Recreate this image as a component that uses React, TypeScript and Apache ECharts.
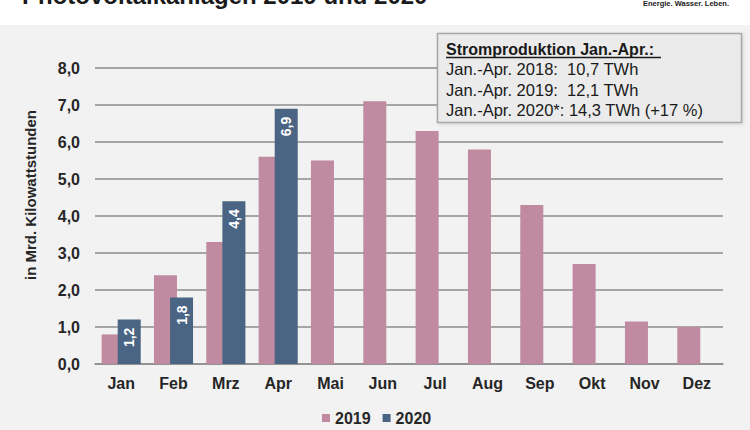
import React, { useEffect, useRef } from "react";
import * as echarts from "echarts";

const months = ["Jan", "Feb", "Mrz", "Apr", "Mai", "Jun", "Jul", "Aug", "Sep", "Okt", "Nov", "Dez"];
const values2019 = [0.8, 2.4, 3.3, 5.6, 5.5, 7.1, 6.3, 5.8, 4.3, 2.7, 1.15, 1.0];
const values2020: (number | null)[] = [1.2, 1.8, 4.4, 6.9, null, null, null, null, null, null, null, null];
const seriesNames = ["2019", "2020"];
const boxLines = [
  "Jan.-Apr. 2018:  10,7 TWh",
  "Jan.-Apr. 2019:  12,1 TWh",
  "Jan.-Apr. 2020*: 14,3 TWh (+17 %)",
];
const boxTitle = "Stromproduktion Jan.-Apr.:";
const chartTitle = "Photovoltaikanlagen 2019 und 2020";
const logoText = "Energie. Wasser. Leben.";
const yName = "in Mrd. Kilowattstunden";

const PINK = "#c08aa0";
const BLUE = "#4a6483";
const FONT = "'Liberation Sans', Arial, sans-serif";
const fmt = (v: number) => v.toFixed(1).replace(".", ",");

export default function App() {
  const ref = useRef<HTMLDivElement>(null);
  useEffect(() => {
    if (!ref.current) return;
    const chart = echarts.init(ref.current, null, { renderer: "svg" });
    chart.setOption({
      animation: false,
      backgroundColor: "transparent",
      textStyle: { fontFamily: FONT },
      grid: { left: 95, right: 27, top: 68, bottom: 66 },
      legend: {
        data: seriesNames,
        left: 322,
        top: 410,
        padding: 0,
        itemWidth: 8,
        itemHeight: 8,
        itemGap: 12,
        icon: "rect",
        textStyle: { fontSize: 16, fontWeight: "bold", color: "#262626", fontFamily: FONT },
      },
      xAxis: {
        type: "category",
        data: months,
        axisLine: { show: true, lineStyle: { color: "#8c8c8c", width: 1.5 } },
        axisTick: { show: false },
        axisLabel: { color: "#262626", fontSize: 16, fontWeight: "bold", margin: 11, fontFamily: FONT },
      },
      yAxis: {
        type: "value",
        min: 0,
        max: 8,
        interval: 1,
        axisLine: { show: false },
        axisTick: { show: false },
        axisLabel: {
          color: "#262626",
          fontSize: 16,
          fontWeight: "bold",
          margin: 15,
          fontFamily: FONT,
          formatter: (v: number) => fmt(v),
        },
        splitLine: { lineStyle: { color: "#8c8c8c", width: 1.5 } },
      },
      series: [
        {
          name: seriesNames[0],
          type: "bar",
          data: values2019,
          barWidth: 23,
          barGap: "-30%",
          itemStyle: { color: PINK },
          z: 2,
        },
        {
          name: seriesNames[1],
          type: "bar",
          data: values2020,
          barWidth: 23,
          itemStyle: { color: BLUE },
          z: 3,
          label: {
            show: true,
            position: "insideTop",
            rotate: 90,
            align: "right",
            verticalAlign: "middle",
            distance: 8,
            color: "#ffffff",
            fontSize: 14,
            fontWeight: "bold",
            fontFamily: FONT,
            formatter: (p: any) => fmt(p.value),
          },
        },
      ],
      graphic: [
        {
          type: "text",
          x: 22,
          y: -5,
          style: {
            text: chartTitle,
            font: `bold 24px ${FONT}`,
            fill: "#1a1a1a",
            verticalAlign: "middle",
          },
        },
        {
          type: "text",
          x: 643,
          y: 3,
          style: {
            text: logoText,
            font: `bold 7.5px ${FONT}`,
            fill: "#1a1a1a",
            verticalAlign: "middle",
          },
        },
        {
          type: "text",
          x: 30,
          y: 195,
          rotation: Math.PI / 2,
          style: {
            text: yName,
            font: `bold 15px ${FONT}`,
            fill: "#262626",
            align: "center",
            verticalAlign: "middle",
          },
        },
        {
          type: "rect",
          z: 100,
          shape: { x: 437.5, y: 33.5, width: 304, height: 89 },
          style: {
            fill: "#ebebeb",
            stroke: "#a6a6a6",
            lineWidth: 1.5,
            shadowColor: "rgba(0,0,0,0.15)",
            shadowBlur: 3,
            shadowOffsetX: 1,
            shadowOffsetY: 1,
          },
        },
        {
          type: "text",
          z: 101,
          x: 446,
          y: 49,
          style: {
            text: boxTitle,
            font: `bold 16px ${FONT}`,
            fill: "#1a1a1a",
            verticalAlign: "middle",
          },
        },
        {
          type: "line",
          z: 101,
          shape: { x1: 446, y1: 57.5, x2: 661, y2: 57.5 },
          style: { stroke: "#1a1a1a", lineWidth: 1.3 },
        },
        ...boxLines.map((t, i) => ({
          type: "text",
          z: 101,
          x: 446,
          y: 69 + i * 20.5,
          style: {
            text: t,
            font: `16.5px ${FONT}`,
            fill: "#1a1a1a",
            verticalAlign: "middle",
          },
        })),
      ],
    });
    return () => chart.dispose();
  }, []);
  return (
    <div
      style={{
        position: "fixed",
        left: 0,
        top: 0,
        width: 750,
        height: 430,
        background: "linear-gradient(to bottom, #ffffff 0px, #ffffff 25px, #f2f2f2 25px, #f2f2f2 100%)",
      }}
    >
      <div ref={ref} style={{ width: 750, height: 430 }} />
    </div>
  );
}
